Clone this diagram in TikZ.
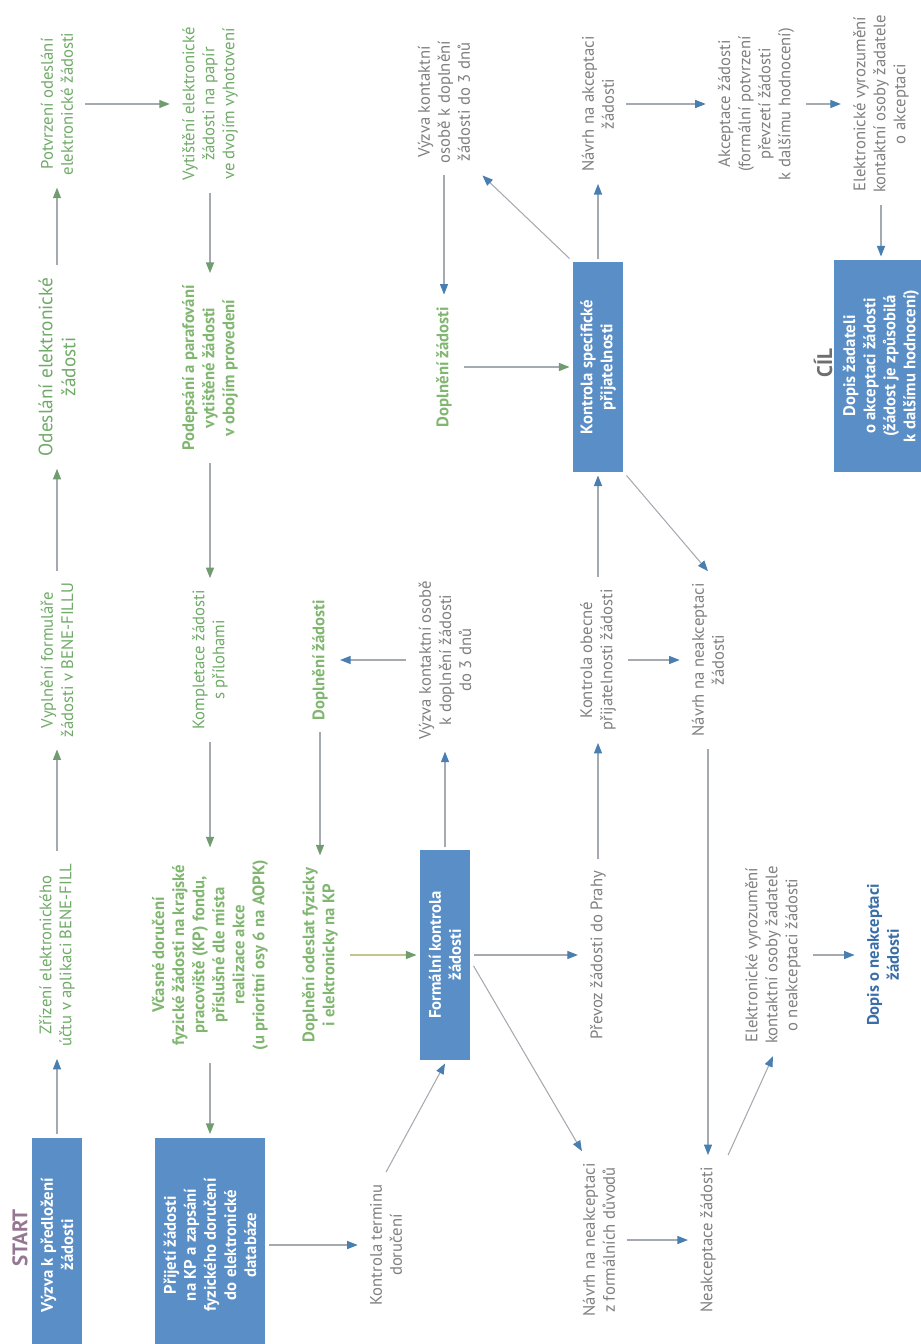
\documentclass[tikz,border=0pt]{standalone}
\usepackage{fontspec}
\setmainfont{PT Sans}
\usetikzlibrary{arrows.meta,calc}
\definecolor{boxblue}{RGB}{90,142,198}
\definecolor{txtgreen}{RGB}{112,170,104}
\definecolor{txtgreenb}{RGB}{128,182,112}
\definecolor{txtgray}{RGB}{128,128,128}
\definecolor{txtblue}{RGB}{58,110,168}
\definecolor{startcol}{RGB}{150,118,146}
\definecolor{cilcol}{RGB}{110,110,110}
\definecolor{linegray}{RGB}{165,170,176}
\definecolor{lineolive}{RGB}{196,196,140}
\definecolor{headblue}{RGB}{72,126,176}
\definecolor{headgreen}{RGB}{112,156,112}
\tikzset{txt/.style={rotate=90, align=center, inner sep=3pt, outer sep=4pt,
font=\fontsize{9.5}{11.4}\selectfont},
act/.style={txt, text=txtgreen},
actb/.style={txt, text=txtgreenb, font=\fontsize{9.5}{11.4}\selectfont\bfseries},
note/.style={txt, text=txtgray},
proc/.style={rectangle, rotate=90, align=center, fill=boxblue, text=white,
inner sep=2pt, outer sep=2pt, minimum height=1cm,
font=\fontsize{9.5}{11.4}\selectfont\bfseries},
title/.style={rotate=90, inner sep=0pt, font=\fontsize{12}{14}\selectfont\bfseries},
ab/.style={draw=linegray, line width=0.6pt, -{Triangle[length=6pt,width=4.6pt,color=headblue]}},
ag/.style={draw=linegray, line width=0.6pt, -{Triangle[length=6pt,width=4.6pt,color=headgreen]}},
ao/.style={ag, draw=lineolive}}

\begin{document}
\begin{tikzpicture}[x=0.02cm,y=-0.02cm]
  \useasboundingbox (0,0) rectangle (920,1344);

  \node (start) [title, text=startcol] at (20,1238) {START};
  \node (cil) [title, text=cilcol] at (823,363) {CÍL};

  % electronic part
  \node (vyzva) [proc, minimum width=4.3cm] at (57,1245) {Výzva k předložení\\žádosti};
  \node (zrizeni) [act] at (57,955) {Zřízení elektronického\\účtu v aplikaci BENE-FILL};
  \node (vyplneni) [act] at (57,660) {Vyplnění formuláře\\žádosti v BENE-FILLU};
  \node (odeslani) [act, font=\fontsize{11}{13}\selectfont] at (57,367) {Odeslání elektronické\\žádosti};
  \node (potvrzeni) [act] at (57,104) {Potvrzení odeslání\\elektronické žádosti};
  \node (vytisteni) [act] at (210,104) {Vytištění elektronické\\žádosti na papír\\ve dvojím vyhotovení};
  \node (podepsani) [actb] at (210,368) {Podepsání a parafování\\vytištěné žádosti\\v obojím provedení};
  \node (kompletace) [act] at (210,660) {Kompletace žádosti\\s přílohami};
  \node (vcasne) [actb] at (210,955) {Včasné doručení\\fyzické žádosti na krajské\\pracoviště (KP) fondu,\\příslušné dle místa\\realizace akce\\(u prioritní osy 6 na AOPK)};
  \node (prijeti) [proc, minimum width=4.3cm, minimum height=2.2cm] at (210,1245) {Přijetí žádosti\\na KP a zapsání\\fyzického doručení\\do elektronické\\databáze};

  % formal check
  \node (terminu) [note] at (386,1245) {Kontrola terminu\\doručení};
  \node (formalni) [proc, minimum width=4.2cm] at (445,955) {Formální kontrola\\žádosti};
  \node (vyzva1) [note] at (445,660) {Výzva kontaktní osobě\\k doplnění žádosti\\do 3 dnů};
  \node (dopl1) [actb] at (320,660) {Doplnění žádosti};
  \node (odeslatKP) [actb] at (320,955) {Doplnění odeslat fyzicky\\i elektronicky na KP};
  \node (navrhF) [note] at (599,1240) {Návrh na neakceptaci\\z formálních důvodů};
  \node (prevoz) [note] at (598,955) {Převoz žádosti do Prahy};

  % acceptability
  \node (obecna) [note] at (598,660) {Kontrola obecné\\přijatelnosti žádosti};
  \node (specif) [proc, minimum width=4.2cm] at (598,367) {Kontrola specifické\\přijatelnosti};
  \node (vyzva2) [note] at (444,102) {Výzva kontaktní\\osobě k doplnění\\žádosti do 3 dnů};
  \node (dopl2) [actb] at (444,367) {Doplnění žádosti};
  \node (navrhA) [note] at (598,104) {Návrh na akceptaci\\žádosti};
  \node (akceptace) [note] at (756,104) {Akceptace žádosti\\(formální potvrzení\\převzetí žádosti\\k dalšímu hodnocení)};
  \node (vyrozA) [note] at (881,104) {Elektronické vyrozumění\\kontaktní osoby žadatele\\o akceptaci};
  \node (dopisA) [proc, minimum width=4.24cm, minimum height=1.9cm] at (881,366) {Dopis žadateli\\o akceptaci žádosti\\(žádost je způsobilá\\k dalšímu hodnocení)};

  % rejection
  \node (navrhN) [note] at (708,660) {Návrh na neakceptaci\\žádosti};
  \node (neakc) [note] at (708,1240) {Neakceptace žádosti};
  \node (vyrozN) [note] at (773,955) {Elektronické vyrozumění\\kontaktní osoby žadatele\\o neakceptaci žádosti};
  \node (dopisN) [note, text=txtblue, font=\fontsize{9.5}{11.4}\selectfont\bfseries] at (883,955) {Dopis o neakceptaci\\žádosti};

  \draw [ab] (vyzva) -- (zrizeni);
  \draw [ag] (zrizeni) -- (vyplneni);
  \draw [ag] (vyplneni) -- (odeslani);
  \draw [ag] (odeslani) -- (potvrzeni);
  \draw [ag] (potvrzeni) -- (vytisteni);
  \draw [ag] (vytisteni) -- (podepsani);
  \draw [ag] (podepsani) -- (kompletace);
  \draw [ag] (kompletace) -- (vcasne);
  \draw [ag] (vcasne) -- (prijeti);
  \draw [ab] (prijeti) -- (terminu);
  \draw [ab] (terminu.east) -- (formalni.west);
  \draw [ab] (formalni) -- (vyzva1);
  \draw [ab] (vyzva1) -- (dopl1);
  \draw [ag] (dopl1) -- (odeslatKP);
  \draw [ao] (odeslatKP) -- (formalni);
  \draw [ab] (formalni) -- (prevoz);
  \draw [ab] ($(formalni.south)!0.1!(formalni.south west)$) -- ($(navrhF.north east)!0.4!(navrhF.east)$);
  \draw [ab] (prevoz) -- (obecna);
  \draw [ab] (obecna) -- (specif);
  \draw [ab] (obecna) -- (navrhN);
  \draw [ab] (specif.south west) -- (navrhN.east);
  \draw [ab] (specif.north east) -- (vyzva2.south west);
  \draw [ab] (vyzva2) -- (dopl2);
  \draw [ag] (dopl2) -- (specif);
  \draw [ab] (specif) -- (navrhA);
  \draw [ab] (navrhA) -- (akceptace);
  \draw [ab] (akceptace) -- (vyrozA);
  \draw [ab] (vyrozA) -- (dopisA);
  \draw [ab] (navrhN) -- (neakc);
  \draw [ab] (navrhF) -- (neakc);
  \draw [ab] (neakc.south east) -- (vyrozN.west);
  \draw [ab] (vyrozN) -- (dopisN);
\end{tikzpicture}
\end{document}
